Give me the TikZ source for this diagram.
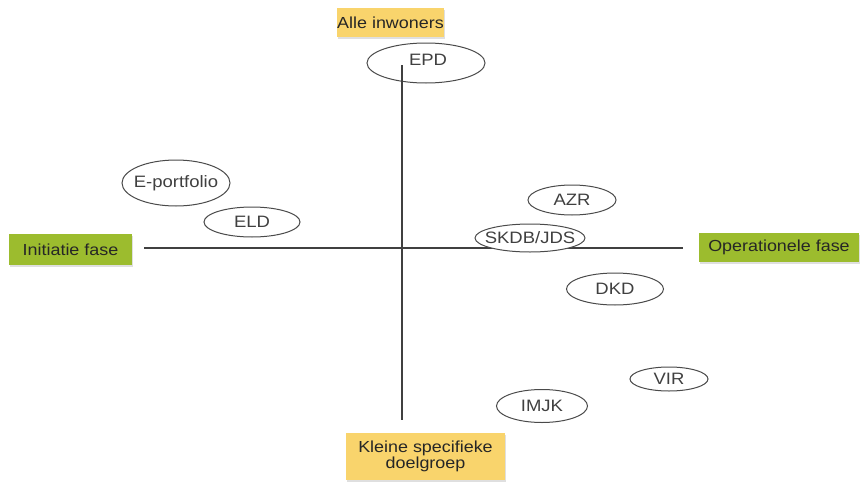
\documentclass[tikz,border=0pt]{standalone}
\usepackage{fontspec}
\setmainfont[FakeStretch=1.12]{Liberation Sans}
\usetikzlibrary{shapes.geometric,shadows}
\definecolor{boxyellow}{HTML}{F9D46C}
\definecolor{boxgreen}{HTML}{9CBC2E}
\definecolor{linegray}{HTML}{404040}
\definecolor{ellgray}{HTML}{4A4A4A}
\newcommand{\zw}[1]{\makebox[0pt]{#1}}
\tikzset{
  lbl/.style={draw=none, inner sep=0pt, font=\fontsize{16}{17}\selectfont, text=black!85,
    drop shadow={opacity=0.25, shadow xshift=1.2pt, shadow yshift=-1.8pt}},
  ybox/.style={lbl, fill=boxyellow},
  gbox/.style={lbl, fill=boxgreen},
  ell/.style={ellipse, draw=ellgray, line width=1pt, inner sep=0pt, fill=white,
    font=\fontsize{16.5}{18}\selectfont, text=black!75},
  axis/.style={draw=linegray, line width=1.1pt}
}
\begin{document}
\begin{tikzpicture}[x=1pt,y=-1pt]
\useasboundingbox (0,0) rectangle (860,482);
% axes
\coordinate (hl) at (144,248);
\coordinate (hr) at (683,248);
\coordinate (vt) at (402,65);
\coordinate (vb) at (402,420);
\draw[axis] (hl) -- (hr);
% ellipses (EPD drawn before vertical axis, which overlaps it)
\node[ell, minimum width=118pt, minimum height=40pt] (epd) at (426,63) {};
\draw[axis] (vt) -- (vb);
\node[font=\fontsize{16.5}{18}\selectfont, text=black!75] (epdt) at (428,60) {EPD};
\node[ell, minimum width=108pt, minimum height=46pt] (eport) at (176,183) {\zw{E-portfolio}};
\node[ell, minimum width=96pt, minimum height=30pt] (eld) at (252,222) {\zw{ELD}};
\node[ell, minimum width=88pt, minimum height=30pt] (azr) at (572,200) {\zw{AZR}};
\node[ell, minimum width=110pt, minimum height=28pt] (skdb) at (530,238) {\zw{SKDB/JDS}};
\node[ell, minimum width=97pt, minimum height=32pt] (dkd) at (615,289) {\zw{DKD}};
\node[ell, minimum width=78pt, minimum height=24pt] (vir) at (669,379) {\zw{VIR}};
\node[ell, minimum width=91pt, minimum height=33pt] (imjk) at (542,406) {\zw{IMJK}};
% label boxes
\node[ybox, minimum width=105pt, minimum height=29pt] (alle) at (390.5,22.5) {Alle inwoners};
\node[gbox, minimum width=123pt, minimum height=31pt] (init) at (70.5,249.5) {Initiatie fase};
\node[gbox, minimum width=160pt, minimum height=29pt] (oper) at (779,247.5) {Operationele fase};
\node[ybox, minimum width=159pt, minimum height=47pt, align=center] (klein) at (425.5,456.5) {Kleine specifieke\\[-1pt]doelgroep};
\end{tikzpicture}
\end{document}
